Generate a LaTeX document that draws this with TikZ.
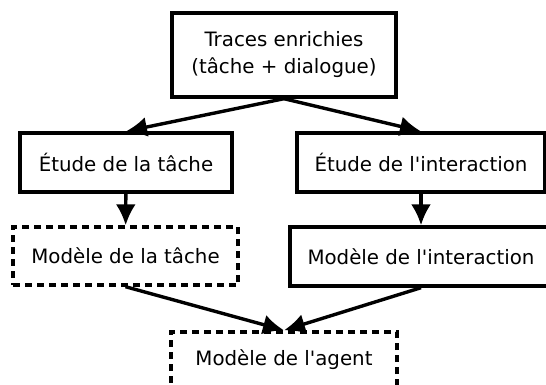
\documentclass[tikz,border=0pt]{standalone}
\usepackage{fontspec}
\setmainfont{DejaVu Sans}
\usetikzlibrary{arrows.meta}

\begin{document}
\begin{tikzpicture}[x=1pt,y=-1pt]

\tikzset{box/.style = {shape=rectangle,draw,line width=3.4pt,align=center,
  font=\fontsize{19.8}{27}\selectfont,inner sep=0pt}}
\tikzset{dbox/.style = {box,dash pattern=on 7pt off 5pt}}
\tikzset{edge/.style = {-{Latex[length=21pt,width=20pt]},line width=3.4pt}}
\useasboundingbox (0,0) rectangle (546,385);
%boxes
\node[box, minimum width=224pt, minimum height=84pt] (1) at (284,55) {Traces enrichies\\(tâche + dialogue)};
\node[box, minimum width=212pt, minimum height=59pt] (2) at (126,162.5) {Étude de la tâche};
\node[box, minimum width=248pt, minimum height=59pt] (3) at (421,162.5) {Étude de l\textquotesingle interaction};
\node[dbox, minimum width=225pt, minimum height=58pt] (4) at (125.5,256) {Modèle de la tâche};
\node[box, minimum width=262pt, minimum height=59pt] (5) at (421,256.5) {Modèle de l\textquotesingle interaction};
\node[dbox, minimum width=226pt, minimum height=56pt] (6) at (284,360) {Modèle de l\textquotesingle agent};
%arrows
\draw [edge] (1.south) -- (2.north);
\draw [edge] (1.south) -- (3.north);
\draw [edge] (2) -- (4);
\draw [edge] (3) -- (5);
\draw [edge] (4.south) -- (6.north);
\draw [edge] (5.south) -- (6.north);

\end{tikzpicture}
\end{document}
